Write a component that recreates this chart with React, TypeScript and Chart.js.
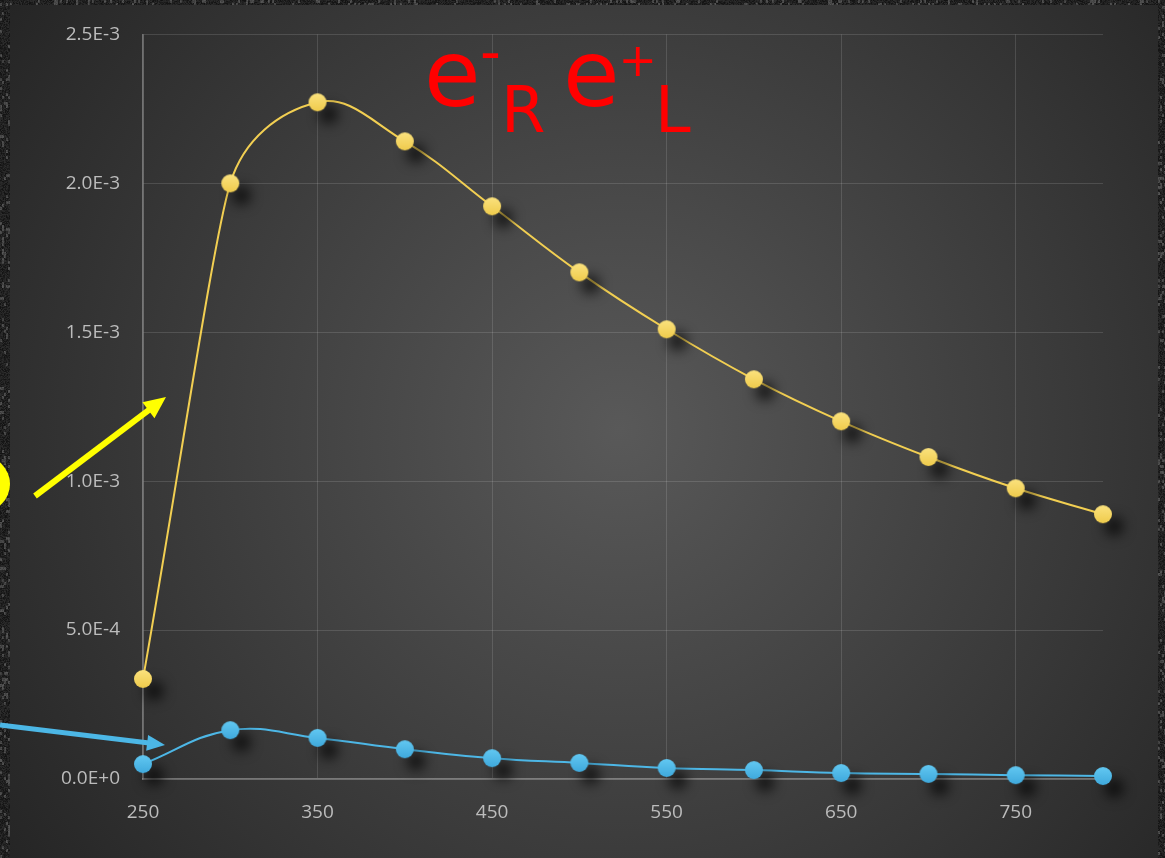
import React, { useEffect, useRef } from "react";
import { Chart, registerables } from "chart.js";

Chart.register(...registerables);

const WIDTH = 1165;
const HEIGHT = 858;

// Beam energies (x) and the two cross-section series (y)
const energies = [250, 300, 350, 400, 450, 500, 550, 600, 650, 700, 750, 800];
const rightLeftRates = [
  3.36e-4, 2.0e-3, 2.272e-3, 2.141e-3, 1.923e-3, 1.701e-3,
  1.51e-3, 1.342e-3, 1.201e-3, 1.081e-3, 0.976e-3, 0.889e-3,
];
const leftRightRates = [
  5.0e-5, 1.64e-4, 1.38e-4, 1.0e-4, 7.0e-5, 5.4e-5,
  3.7e-5, 3.0e-5, 2.0e-5, 1.7e-5, 1.3e-5, 1.0e-5,
];

const xTickValues = [250, 350, 450, 550, 650, 750];
const yTickValues = [0, 0.0005, 0.001, 0.0015, 0.002, 0.0025];

const TICK_COLOR = "#bcbcbc";
const GRID_COLOR = "rgba(255,255,255,0.13)";
const AXIS_COLOR = "rgba(255,255,255,0.32)";

// Round marker with a soft drop shadow, used as an image point style
function makeDot(light: string, dark: string): HTMLCanvasElement {
  const c = document.createElement("canvas");
  c.width = 72;
  c.height = 72;
  const ctx = c.getContext("2d")!;
  const g = ctx.createLinearGradient(0, 27, 0, 45);
  g.addColorStop(0, light);
  g.addColorStop(1, dark);
  ctx.shadowColor = "rgba(0,0,0,0.8)";
  ctx.shadowBlur = 13;
  ctx.shadowOffsetX = 11;
  ctx.shadowOffsetY = 12;
  ctx.beginPath();
  ctx.arc(36, 36, 9, 0, Math.PI * 2);
  ctx.fillStyle = g;
  ctx.fill();
  return c;
}

function hash(i: number): number {
  let x = Math.imul(i ^ 0x9e3779b9, 0x85ebca6b);
  x ^= x >>> 13;
  x = Math.imul(x, 0xc2b2ae35);
  x ^= x >>> 16;
  return (x >>> 0) / 4294967296;
}

// Grainy frame texture behind the panel
function makeGrain(): HTMLCanvasElement {
  const c = document.createElement("canvas");
  c.width = WIDTH;
  c.height = HEIGHT;
  const ctx = c.getContext("2d")!;
  const img = ctx.createImageData(WIDTH, HEIGHT);
  for (let y = 0; y < HEIGHT; y++) {
    for (let x = 0; x < WIDTH; x++) {
      const i = y * WIDTH + x;
      const n = hash(i);
      const streak = hash(Math.floor(y / 3) * 131 + Math.floor(x / 2)) > 0.85 ? 40 : 0;
      const v = Math.min(255, 18 + n * 28 + streak);
      img.data[i * 4] = v;
      img.data[i * 4 + 1] = v;
      img.data[i * 4 + 2] = v;
      img.data[i * 4 + 3] = 255;
    }
  }
  ctx.putImageData(img, 0, 0);
  return c;
}

function drawArrow(
  ctx: CanvasRenderingContext2D,
  x1: number, y1: number, x2: number, y2: number,
  color: string, width: number, headLen: number, headHalf: number
) {
  const a = Math.atan2(y2 - y1, x2 - x1);
  const bx = x2 - Math.cos(a) * headLen;
  const by = y2 - Math.sin(a) * headLen;
  ctx.save();
  ctx.strokeStyle = color;
  ctx.fillStyle = color;
  ctx.lineWidth = width;
  ctx.beginPath();
  ctx.moveTo(x1, y1);
  ctx.lineTo(bx + Math.cos(a) * 2, by + Math.sin(a) * 2);
  ctx.stroke();
  ctx.beginPath();
  ctx.moveTo(x2, y2);
  ctx.lineTo(bx + Math.sin(a) * headHalf, by - Math.cos(a) * headHalf);
  ctx.lineTo(bx - Math.sin(a) * headHalf, by + Math.cos(a) * headHalf);
  ctx.closePath();
  ctx.fill();
  ctx.restore();
}

// Draws a glyph so that its ink box is centred on (cx, cy)
function drawGlyph(
  ctx: CanvasRenderingContext2D, text: string, font: string, cx: number, cy: number
) {
  ctx.font = font;
  ctx.textAlign = "left";
  ctx.textBaseline = "alphabetic";
  const m = ctx.measureText(text);
  const left = -m.actualBoundingBoxLeft;
  const w = m.actualBoundingBoxLeft + m.actualBoundingBoxRight;
  const h = m.actualBoundingBoxAscent + m.actualBoundingBoxDescent;
  const x = cx - w / 2 - left;
  const y = cy + h / 2 - m.actualBoundingBoxDescent;
  ctx.fillText(text, x, y);
}

// Shortens bezier handles so that a long segment next to a short one stays straight
function clampHandle(p: any, key: "cp1" | "cp2", maxLen: number) {
  const hx = p[key + "x"] - p.x;
  const hy = p[key + "y"] - p.y;
  const len = Math.hypot(hx, hy);
  if (len > maxLen && len > 0) {
    const k = maxLen / len;
    p[key + "x"] = p.x + hx * k;
    p[key + "y"] = p.y + hy * k;
  }
}

export default function App() {
  const canvasRef = useRef<HTMLCanvasElement | null>(null);

  useEffect(() => {
    const canvas = canvasRef.current;
    if (!canvas) return;
    const grain = makeGrain();
    const yellowDot = makeDot("#fbe27e", "#efcb4c");
    const blueDot = makeDot("#62c8f2", "#3fa9dc");

    const backdrop = {
      id: "backdrop",
      beforeDraw(chart: Chart) {
        const ctx = chart.ctx;
        ctx.save();
        ctx.drawImage(grain, 0, 0);
        const g = ctx.createRadialGradient(620, 430, 0, 620, 430, 760);
        g.addColorStop(0, "#595959");
        g.addColorStop(0.55, "#3c3c3c");
        g.addColorStop(1, "#242424");
        ctx.fillStyle = g;
        ctx.fillRect(10, 5, 1148, HEIGHT - 5);
        ctx.restore();
      },
    };

    const smoothing = {
      id: "smoothing",
      beforeDatasetsDraw(chart: Chart) {
        chart.data.datasets.forEach((_d, di) => {
          const meta: any = chart.getDatasetMeta(di);
          const line = meta.dataset;
          if (!line) return;
          line.updateControlPoints(chart.chartArea, "x");
          const pts = meta.data as any[];
          for (let i = 1; i < pts.length - 1; i++) {
            const p = pts[i];
            const dPrev = Math.hypot(p.x - pts[i - 1].x, p.y - pts[i - 1].y);
            const dNext = Math.hypot(pts[i + 1].x - p.x, pts[i + 1].y - p.y);
            const maxLen = 0.5 * Math.min(dPrev, dNext);
            clampHandle(p, "cp1", maxLen);
            clampHandle(p, "cp2", maxLen);
          }
        });
      },
    };

    const callouts = {
      id: "callouts",
      afterDraw(chart: Chart) {
        const ctx = chart.ctx;
        ctx.save();
        // Yellow marker at the left edge
        ctx.fillStyle = "#ffff00";
        ctx.beginPath();
        ctx.ellipse(-18, 484, 28, 28, 0, 0, Math.PI * 2);
        ctx.fill();
        drawArrow(ctx, 35, 496, 166, 397, "#ffff00", 6, 22, 10);
        drawArrow(ctx, 0, 725, 165, 745, "#4cb7e6", 5, 18, 8);

        // Helicity label e⁻R e⁺L
        ctx.fillStyle = "#ff0000";
        const face = '"DejaVu Sans", sans-serif';
        drawGlyph(ctx, "e", `92px ${face}`, 452.5, 80);
        drawGlyph(ctx, "-", `58px ${face}`, 490.5, 55.5);
        drawGlyph(ctx, "R", `64px ${face}`, 525.5, 108.5);
        drawGlyph(ctx, "e", `92px ${face}`, 591.5, 80);
        drawGlyph(ctx, "+", `46px ${face}`, 637.5, 61);
        drawGlyph(ctx, "L", `64px ${face}`, 676, 108.5);
        ctx.restore();
      },
    };

    const toPoints = (ys: number[]) => energies.map((x, i) => ({ x, y: ys[i] }));
    const tickFont = { family: '"Open Sans", sans-serif', size: 19 };

    const chart = new Chart(canvas, {
      type: "line",
      data: {
        datasets: [
          {
            label: "e-R e+L",
            data: toPoints(rightLeftRates),
            borderColor: "#f2cf52",
            borderWidth: 2,
            tension: 0.4,
            fill: false,
            clip: false,
            pointStyle: yellowDot,
            pointRadius: 9,
          },
          {
            label: "e-L e+R",
            data: toPoints(leftRightRates),
            borderColor: "#4db7e6",
            borderWidth: 2,
            tension: 0.4,
            fill: false,
            clip: false,
            pointStyle: blueDot,
            pointRadius: 9,
          },
        ],
      },
      options: {
        responsive: false,
        animation: false,
        devicePixelRatio: 1,
        layout: { padding: { top: 34, right: 62, left: 0, bottom: 0 } },
        plugins: { legend: { display: false }, tooltip: { enabled: false } },
        scales: {
          x: {
            type: "linear",
            min: 250,
            max: 800,
            afterBuildTicks: (s: any) => {
              s.ticks = xTickValues.map((value) => ({ value }));
            },
            afterFit: (s: any) => {
              s.height = 79;
            },
            ticks: {
              color: TICK_COLOR,
              font: tickFont,
              padding: 22,
              maxRotation: 0,
              autoSkip: false,
              callback: (v: any) => String(v),
            },
            grid: { color: GRID_COLOR, drawTicks: false, lineWidth: 1 },
            border: { color: AXIS_COLOR, width: 1.5 },
          },
          y: {
            type: "linear",
            min: 0,
            max: 0.0025,
            afterBuildTicks: (s: any) => {
              s.ticks = yTickValues.map((value) => ({ value }));
            },
            afterFit: (s: any) => {
              s.width = 143;
            },
            ticks: {
              color: TICK_COLOR,
              font: tickFont,
              padding: 23,
              autoSkip: false,
              callback: (v: any) => Number(v).toExponential(1).toUpperCase(),
            },
            grid: { color: GRID_COLOR, drawTicks: false, lineWidth: 1 },
            border: { color: AXIS_COLOR, width: 1.5 },
          },
        },
      },
      plugins: [backdrop, smoothing, callouts],
    } as any);

    return () => chart.destroy();
  }, []);

  return (
    <div style={{ position: "fixed", left: 0, top: 0, width: WIDTH, height: HEIGHT, background: "#1c1c1c" }}>
      <canvas ref={canvasRef} width={WIDTH} height={HEIGHT} style={{ display: "block" }} />
    </div>
  );
}
